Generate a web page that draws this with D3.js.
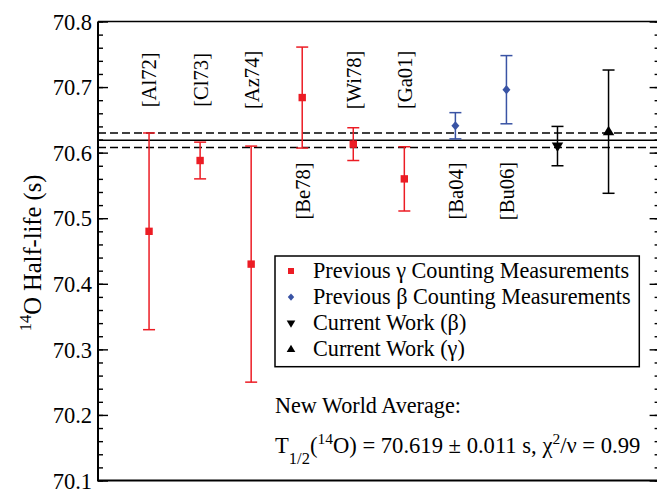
<!DOCTYPE html>
<html><head><meta charset="utf-8">
<script src="https://cdn.jsdelivr.net/npm/d3@7"></script>
<style>body{margin:0;background:#fff}svg{display:block}svg text{font-family:"Liberation Serif","Times New Roman",serif !important;fill:#000}</style>
</head><body>
<script>
// ---- data ----
const gammaLabels = ["[Al72]", "[Cl73]", "[Az74]", "[Be78]", "[Wi78]", "[Ga01]"];
const gammaPos = [1, 2, 3, 4, 5, 6];
const gammaValues = [70.480, 70.588, 70.430, 70.684, 70.613, 70.560];
const gammaErrors = [0.150, 0.028, 0.180, 0.077, 0.025, 0.049];

const betaLabels = ["[Ba04]", "[Bu06]"];
const betaPos = [7, 8];
const betaValues = [70.641, 70.696];
const betaErrors = [0.020, 0.052];

const currentBetaPos = [9];
const currentBetaValues = [70.610];
const currentBetaErrors = [0.030];
const currentGammaPos = [10];
const currentGammaValues = [70.632];
const currentGammaErrors = [0.094];

const worldAverage = 70.619;
const worldAverageError = 0.011;

const yTicks = [70.1, 70.2, 70.3, 70.4, 70.5, 70.6, 70.7, 70.8];
const legendLabels = ["Previous \u03b3 Counting Measurements", "Previous \u03b2 Counting Measurements", "Current Work (\u03b2)", "Current Work (\u03b3)"];

// ---- drawing ----
const W = 657, H = 489;
const RED = "#ec1c24", BLUE = "#3953a4", BLACK = "#000";
const FONT = "Liberation Serif";
const svg = d3.select("body").append("svg").attr("width", W).attr("height", H).attr("font-family", FONT);
svg.append("rect").attr("width", W).attr("height", H).attr("fill", "#fff");

const x = d3.scaleLinear().domain([0, 11]).range([98, 659.6]);
const y = d3.scaleLinear().domain([70.1, 70.8]).range([480.5, 21.5]);
const [x0, x1] = x.range();
const [yb, yt] = y.range();

// axes
const minorTicks = d3.range(70.1, 70.8001, 0.02).map(v => +v.toFixed(2));
const gL = svg.append("g").attr("transform", `translate(${x0},0)`);
gL.call(d3.axisLeft(y).tickValues(minorTicks).tickSize(-5).tickFormat(""));
const gLM = gL.append("g").call(d3.axisLeft(y).tickValues(yTicks).tickSize(-10).tickPadding(6).tickFormat(d3.format(".1f")));
gLM.attr("font-family", FONT).attr("font-size", 22.5);
const gR = svg.append("g").attr("transform", `translate(${x1},0)`);
gR.call(d3.axisRight(y).tickValues(minorTicks).tickSize(-5).tickFormat(""));
gR.append("g").call(d3.axisRight(y).tickValues(yTicks).tickSize(-10).tickFormat(""));
svg.selectAll(".domain").remove();
svg.selectAll(".tick line").attr("stroke", "#000").attr("stroke-width", 1.4);
gLM.selectAll(".tick text").attr("font-size", 22.5).style("font-family", FONT).attr("fill", "#000").attr("dy", "0.34em");

// frame
svg.append("line").attr("x1", x0).attr("x2", x0).attr("y1", yt).attr("y2", yb).attr("stroke", "#000").attr("stroke-width", 2);
svg.append("line").attr("x1", x0).attr("x2", x1).attr("y1", yt).attr("y2", yt).attr("stroke", "#000").attr("stroke-width", 1.6);
svg.append("line").attr("x1", x0 - 1).attr("x2", x1).attr("y1", yb).attr("y2", yb).attr("stroke", "#000").attr("stroke-width", 2.2);
svg.append("line").attr("x1", x1).attr("x2", x1).attr("y1", yt).attr("y2", yb).attr("stroke", "#000").attr("stroke-width", 2);

// y title
const yt0 = svg.append("text").attr("transform", `translate(41,${(yt + yb) / 2 + 2}) rotate(-90)`)
  .attr("text-anchor", "middle").attr("font-size", 24.5);
yt0.append("tspan").attr("font-size", 16.5).attr("dy", -10).text("14");
yt0.append("tspan").attr("dy", 10).text("O Half-life (s)");

// world average lines
const avgG = svg.append("g");
avgG.append("line").attr("x1", x0).attr("x2", x1).attr("y1", y(worldAverage)).attr("y2", y(worldAverage))
  .attr("stroke", "#000").attr("stroke-width", 1.5);
[worldAverage + worldAverageError, worldAverage - worldAverageError].forEach(v => {
  avgG.append("line").attr("x1", x0).attr("x2", x1).attr("y1", y(v)).attr("y2", y(v))
    .attr("stroke", "#000").attr("stroke-width", 1.5).attr("stroke-dasharray", "8,4");
});

function errorBars(pos, vals, errs, color) {
  const g = svg.append("g").attr("stroke", color).attr("stroke-width", 1.5);
  pos.forEach((p, i) => {
    const cx = x(p), lo = y(vals[i] - errs[i]), hi = y(vals[i] + errs[i]);
    g.append("line").attr("x1", cx).attr("x2", cx).attr("y1", lo).attr("y2", hi);
    g.append("line").attr("x1", cx - 6).attr("x2", cx + 6).attr("y1", lo).attr("y2", lo);
    g.append("line").attr("x1", cx - 6).attr("x2", cx + 6).attr("y1", hi).attr("y2", hi);
  });
}
const shapes = {
  square: s => `M${-s},${-s}H${s}V${s}H${-s}Z`,
  diamond: s => `M0,${-s * 1.15}L${s},0L0,${s * 1.15}L${-s},0Z`,
  down: s => `M${-s * 1.2},${-s * 0.75}H${s * 1.2}L0,${s * 1.25}Z`,
  up: s => `M${-s * 1.2},${s * 0.75}H${s * 1.2}L0,${-s * 1.25}Z`
};
function markers(pos, vals, shape, size, color) {
  svg.append("g").selectAll("path").data(pos).join("path")
    .attr("transform", (p, i) => `translate(${x(p)},${y(vals[i])})`)
    .attr("d", shapes[shape](size)).attr("fill", color);
}
errorBars(gammaPos, gammaValues, gammaErrors, RED);
markers(gammaPos, gammaValues, "square", 3.7, RED);
errorBars(betaPos, betaValues, betaErrors, BLUE);
markers(betaPos, betaValues, "diamond", 4, BLUE);
errorBars(currentBetaPos, currentBetaValues, currentBetaErrors, BLACK);
markers(currentBetaPos, currentBetaValues, "down", 4.8, BLACK);
errorBars(currentGammaPos, currentGammaValues, currentGammaErrors, BLACK);
markers(currentGammaPos, currentGammaValues, "up", 4.8, BLACK);

// reference labels: above the points unless the upper error bar reaches high
function refLabels(labels, pos, vals, errs) {
  labels.forEach((t, i) => {
    const below = vals[i] + errs[i] > 70.65;
    const cy = y(below ? 70.5415 : 70.711);
    svg.append("text").attr("transform", `translate(${x(pos[i])},${cy}) rotate(-90)`)
      .attr("text-anchor", "middle").attr("dy", "0.36em").attr("font-size", 20.6).text(t);
  });
}
refLabels(gammaLabels, gammaPos, gammaValues, gammaErrors);
refLabels(betaLabels, betaPos, betaValues, betaErrors);

// legend
const lg = svg.append("g");
lg.append("rect").attr("x", 275).attr("y", 256).attr("width", 364.3).attr("height", 110.7)
  .attr("fill", "#fff").attr("stroke", "#000").attr("stroke-width", 1.5);
const legShapes = [["square", 3, RED], ["diamond", 3.2, BLUE], ["down", 3.6, BLACK], ["up", 3.6, BLACK]];
legendLabels.forEach((t, i) => {
  const cy = 271 + i * 26.1;
  lg.append("path").attr("transform", `translate(291,${cy})`).attr("d", shapes[legShapes[i][0]](legShapes[i][1])).attr("fill", legShapes[i][2]);
  lg.append("text").attr("x", 313).attr("y", cy + 7).attr("font-size", 22.2).text(t);
});

// world average text
svg.append("text").attr("x", 275).attr("y", 412.7).attr("font-size", 22.2).text("New World Average:");
const t2 = svg.append("text").attr("x", 275).attr("y", 453.3).attr("font-size", 22.6);
t2.append("tspan").text("T");
t2.append("tspan").attr("font-size", 16.5).attr("dy", 11).text("1/2");
t2.append("tspan").attr("dy", -11).text("(");
t2.append("tspan").attr("font-size", 15.5).attr("dy", -9).text("14");
t2.append("tspan").attr("dy", 9).text(`O) = ${worldAverage.toFixed(3)} \u00b1 ${worldAverageError.toFixed(3)} s, \u03c7`);
t2.append("tspan").attr("font-size", 15.5).attr("dy", -9).text("2");
t2.append("tspan").attr("dy", 9).text("/\u03bd = 0.99");
</script>
</body></html>
